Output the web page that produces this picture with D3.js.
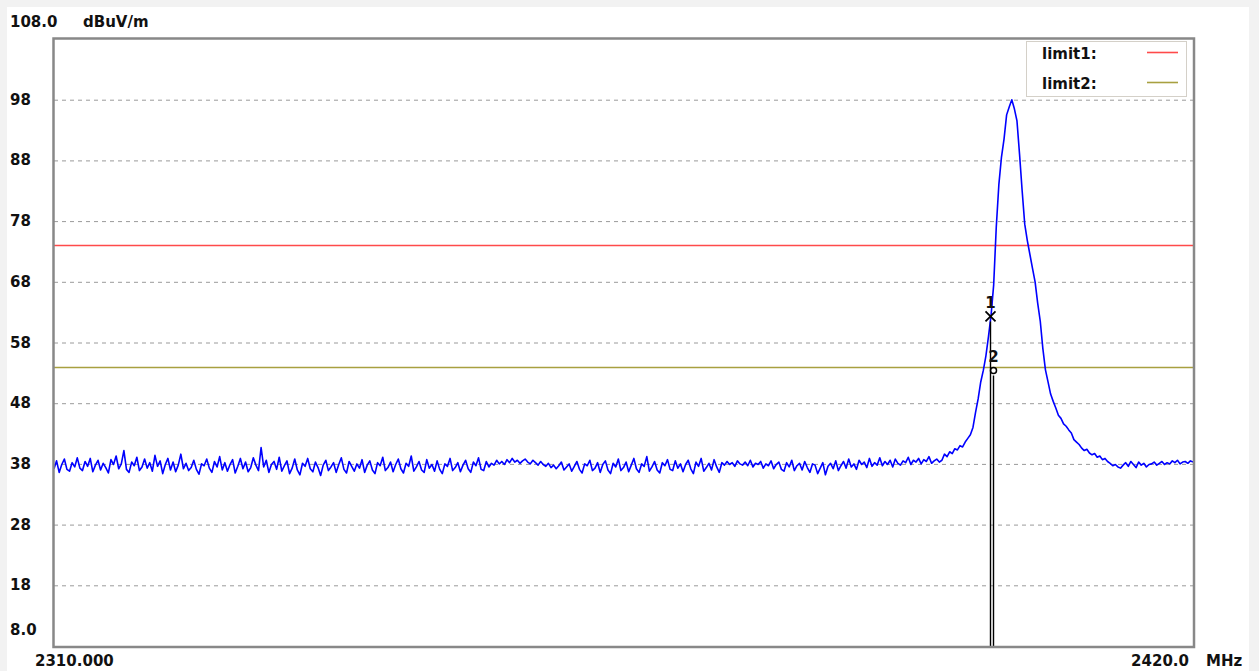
<!DOCTYPE html>
<html><head><meta charset="utf-8">
<script src="https://cdn.jsdelivr.net/npm/d3@7"></script>
<style>
html,body{margin:0;padding:0;background:#f2f2f2;}
svg{display:block;}
text{font-family:"DejaVu Sans",sans-serif;font-weight:bold;fill:#111;}
</style></head><body>
<svg id="c" width="1259" height="671"></svg>
<script>
// ---- data ----
const startFreq = 2310.0, stopFreq = 2420.0, freqStep = 0.25; // sweep definition (MHz)
const yMin = 8, yMax = 108;
const yTicks = [108, 98, 88, 78, 68, 58, 48, 38, 28, 18, 8];
const yTickLabels = ["108.0", "98", "88", "78", "68", "58", "48", "38", "28", "18", "8.0"];
const yUnit = "dBuV/m";
const xLabels = ["2310.000", "2420.0"];
const xUnit = "MHz";
const limitNames = ["limit1:", "limit2:"];
const limitValues = [74, 54];
const markerNames = ["1", "2"];
const markerFreqs = [2400.4, 2400.7];
const markerLevels = [62.3, 53.4];
const levels = [
37.2,38.5,36.6,37.9,38.8,37.1,36.8,38.2,37.5,39.0,37.3,36.9,38.4,37.6,38.9,36.7,37.8,38.6,37.0,38.1,
37.4,36.5,38.7,37.9,39.3,37.2,38.0,40.2,37.1,36.6,38.3,37.7,39.1,36.9,37.5,38.8,37.3,38.2,36.8,39.4,
37.6,38.5,36.4,37.9,38.9,37.0,38.3,36.7,37.8,39.6,37.2,38.1,36.9,37.4,38.6,37.1,36.3,38.0,37.7,38.8,
37.3,36.6,38.4,37.5,39.2,37.0,38.2,36.8,37.9,38.7,36.5,37.6,38.9,37.2,38.3,36.7,37.4,39.0,37.8,36.9,
40.7,37.5,38.6,36.6,37.9,38.4,37.1,39.1,36.8,37.7,38.5,36.4,37.3,38.8,37.0,36.2,38.1,37.6,38.9,37.2,
36.7,38.3,37.4,36.1,37.8,38.6,36.9,37.5,38.2,36.6,37.9,39.0,37.1,36.5,38.4,37.6,36.8,38.0,37.3,38.7,
36.6,37.8,38.5,37.0,36.4,38.2,37.7,39.1,36.9,37.4,38.3,36.7,37.9,38.8,37.2,36.5,38.1,37.6,39.3,36.8,
37.5,38.4,37.0,36.6,38.7,37.3,37.9,36.8,38.5,37.1,36.4,38.0,37.6,38.9,36.9,37.4,38.2,36.7,37.8,38.6,
37.2,36.6,38.3,37.7,39.0,37.1,36.9,38.4,37.5,38.1,37.8,38.6,38.0,38.4,37.9,38.7,38.2,38.9,38.3,38.6,
38.1,38.5,38.8,38.3,38.0,38.6,38.2,37.8,38.4,37.9,37.6,38.1,37.4,37.8,37.2,37.7,38.3,37.0,37.5,38.0,
36.8,37.6,38.4,37.1,36.5,38.0,37.7,38.6,36.9,37.3,38.2,36.6,37.9,38.5,37.0,36.4,38.1,37.5,38.8,36.9,
37.4,38.3,36.7,37.8,38.9,37.2,36.6,38.0,37.6,39.2,36.8,37.5,38.4,37.0,36.5,38.2,37.7,38.7,37.1,36.9,
38.5,37.3,38.0,36.7,37.9,38.6,37.2,36.4,38.3,37.6,38.9,36.8,37.4,38.1,37.0,38.7,37.5,36.6,38.2,37.8,
38.4,37.9,38.2,37.6,38.5,38.0,37.8,38.3,37.7,38.6,37.5,38.1,37.9,38.4,37.3,38.0,37.7,38.5,37.2,37.9,
38.3,37.1,36.8,38.2,37.5,38.6,36.9,37.7,38.1,37.0,38.4,37.4,36.6,38.0,37.8,36.4,37.3,38.2,36.2,37.6,
38.1,37.2,38.5,36.9,37.7,38.4,37.3,38.8,37.5,38.0,37.1,38.6,37.9,38.3,37.4,38.9,37.6,38.2,37.8,39.0,
37.7,38.4,37.9,38.6,37.5,38.8,38.1,37.8,38.5,38.2,39.1,37.9,38.6,38.3,38.9,38.0,38.7,38.4,39.2,38.1,
38.5,38.8,38.3,38.6,39.6,39.2,40.0,39.7,40.5,40.3,41.0,40.8,41.6,42.2,42.8,44.0,46.5,48.7,51.5,53.4,
55.8,59.0,62.5,67.5,77.0,84.0,88.5,91.5,95.5,96.8,98.0,96.5,94.5,89.0,83.0,77.5,74.8,72.5,70.2,68.0,
64.5,61.5,57.0,53.5,51.5,49.5,48.3,47.2,46.0,45.5,44.6,44.2,43.6,43.1,42.0,41.6,41.2,40.6,40.2,40.4,
39.8,39.5,39.7,39.1,39.3,38.7,38.9,38.4,38.1,37.7,37.9,37.5,37.3,37.8,38.2,37.6,38.4,37.9,37.4,38.3,
37.8,38.1,37.5,37.9,38.0,38.3,37.8,38.1,38.4,37.9,38.2,38.0,38.5,38.2,38.6,38.0,38.3,38.4,38.1,38.5,
38.3
];

// ---- drawing ----
const svg = d3.select("#c");
const W = 1259, H = 671;
const L = 54, R = 1193, T = 39, B = 646;
const x = d3.scaleLinear().domain([startFreq, stopFreq]).range([L, R]);
const y = d3.scaleLinear().domain([yMin, yMax]).range([B, T]);

svg.append("rect").attr("x", 7).attr("y", 7).attr("width", 1242).attr("height", H - 7).attr("fill", "#ffffff");

// gridlines via axis
const grid = svg.append("g").attr("transform", `translate(${L},0)`)
  .call(d3.axisLeft(y).tickValues(yTicks.filter(v => v !== yMin && v !== yMax)).tickSize(-(R - L)).tickFormat(""));
grid.select(".domain").remove();
grid.selectAll(".tick line").attr("stroke", "#9a9a9a").attr("stroke-width", 1).attr("stroke-dasharray", "4,4");

// limits
const limitColors = ["#ff4a4a", "#a8a040"];
limitValues.forEach((v, i) => {
  svg.append("line").attr("x1", L).attr("x2", R).attr("y1", Math.round(y(v)) + 0.5).attr("y2", Math.round(y(v)) + 0.5)
    .attr("stroke", limitColors[i]).attr("stroke-width", 1.6);
});

// trace
const line = d3.line().x((d, i) => x(startFreq + i * freqStep)).y(d => y(d));
svg.append("path").datum(levels).attr("d", line).attr("fill", "none")
  .attr("stroke", "#0000ff").attr("stroke-width", 1.6).attr("stroke-linejoin", "round");

// markers
markerFreqs.forEach((f, i) => {
  const mx = Math.round(x(f)) + 0.5, my = y(markerLevels[i]);
  svg.append("line").attr("x1", mx).attr("x2", mx).attr("y1", my + 5).attr("y2", B)
    .attr("stroke", "#000").attr("stroke-width", 1.4);
  if (i === 0) {
    svg.append("path").attr("d", `M${mx-5},${my-5}L${mx+5},${my+5}M${mx-5},${my+5}L${mx+5},${my-5}`)
      .attr("stroke", "#000").attr("stroke-width", 1.8).attr("fill", "none");
  } else {
    svg.append("circle").attr("cx", mx).attr("cy", my).attr("r", 3)
      .attr("stroke", "#000").attr("stroke-width", 1.5).attr("fill", "none");
  }
  svg.append("text").attr("x", mx).attr("y", my - 8).attr("text-anchor", "middle")
    .style("font-size", "15px").text(markerNames[i]);
});

// frame
svg.append("rect").attr("x", L - 0.5).attr("y", T - 0.5).attr("width", R - L + 1.5).attr("height", B - T + 1.5)
  .attr("fill", "none").attr("stroke", "#888").attr("stroke-width", 2.5);

// y labels
yTicks.forEach((v, i) => {
  let yy = y(v) + 5;
  if (v === yMax) yy = y(v) - 12;
  if (v === yMin) yy = y(v) - 11;
  svg.append("text").attr("x", 10).attr("y", yy).style("font-size", "15px").text(yTickLabels[i]);
});
svg.append("text").attr("x", 83).attr("y", y(yMax) - 12).style("font-size", "15px").text(yUnit);

// x labels
svg.append("text").attr("x", 35).attr("y", 666).style("font-size", "15px").text(xLabels[0]);
svg.append("text").attr("x", 1189).attr("y", 666).attr("text-anchor", "end").style("font-size", "15px").text(xLabels[1]);
svg.append("text").attr("x", 1206).attr("y", 666).style("font-size", "15px").text(xUnit);

// legend
const lg = svg.append("g");
lg.append("rect").attr("x", 1026.5).attr("y", 41.5).attr("width", 160).attr("height", 55)
  .attr("fill", "#fff").attr("stroke", "#d4d0c8").attr("stroke-width", 1);
limitNames.forEach((n, i) => {
  const ly = 59 + i * 30;
  lg.append("text").attr("x", 1042).attr("y", ly).style("font-size", "15px").text(n);
  lg.append("line").attr("x1", 1147).attr("x2", 1178).attr("y1", ly - 6.5).attr("y2", ly - 6.5)
    .attr("stroke", limitColors[i]).attr("stroke-width", 1.6);
});
</script>
</body></html>
